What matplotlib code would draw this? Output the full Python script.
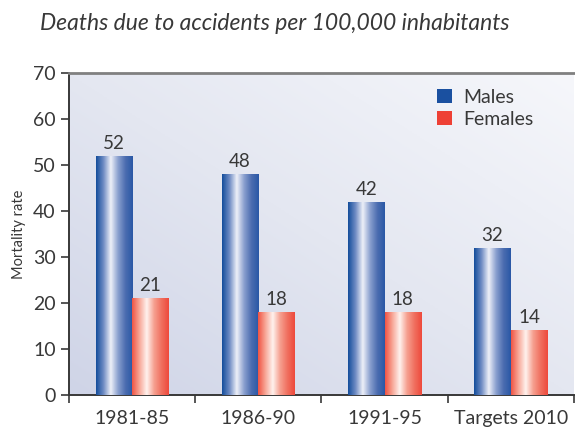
import numpy as np
import matplotlib.pyplot as plt
from matplotlib.colors import LinearSegmentedColormap

plt.rcParams['font.family'] = ['Lato', 'DejaVu Sans']

periods = ['1981-85', '1986-90', '1991-95', 'Targets 2010']
males = [52, 48, 42, 32]
females = [21, 18, 18, 14]

text_col = '#383838'

fig = plt.figure(figsize=(5.75, 4.32), dpi=100)
ax = fig.add_axes([0.12, 0.086, 0.878, 0.745])

# background gradient of the plot area
bg = LinearSegmentedColormap.from_list('bg', ['#cfd4e7', '#e4e7f1', '#f6f7fb'])
yy, xx = np.mgrid[0:1:200j, 0:1:200j]
ax.imshow((xx + yy) / 2, cmap=bg, extent=[0, 1, 0, 1], origin='lower',
          transform=ax.transAxes, aspect='auto', zorder=0)

blue = LinearSegmentedColormap.from_list(
    'b', ['#154e9c', '#6f8cc4', '#eef0f8', '#8aa0cf', '#4c6db0', '#2a58a6'])
red = LinearSegmentedColormap.from_list(
    'r', ['#f05545', '#f8a898', '#fff2ee', '#f6a090', '#f07060', '#ee4a3c'])
grad = np.linspace(0, 1, 100).reshape(1, -1)

x = np.arange(len(periods))
w = 0.29
b1 = ax.bar(x - w / 2, males, w, color='#1a50a0', label='Males', zorder=2)
b2 = ax.bar(x + w / 2, females, w, color='#ee4035', label='Females', zorder=2)

for bars, cmap in ((b1, blue), (b2, red)):
    for r in bars:
        x0, y0 = r.get_x(), r.get_y()
        im = ax.imshow(grad, cmap=cmap, aspect='auto', zorder=3,
                       extent=[x0, x0 + r.get_width(), y0, y0 + r.get_height()])
        im.set_clip_path(r)
    ax.bar_label(bars, padding=3, fontsize=13.5, color=text_col)

ax.set_xlim(-0.5, len(periods) - 0.5)
ax.set_ylim(0, 70)
ax.set_yticks(range(0, 71, 10))
ax.set_xticks(x)
ax.set_xticklabels(periods)
ax.set_xticks(np.arange(-0.5, len(periods)), minor=True)
ax.tick_params(axis='x', which='major', length=0, pad=11, labelsize=14, labelcolor=text_col)
ax.tick_params(axis='x', which='minor', length=6, width=1.2, color=text_col)
ax.tick_params(axis='y', length=6, width=1.2, color=text_col, labelsize=14, labelcolor=text_col)

for s in ('left', 'bottom'):
    ax.spines[s].set_color(text_col)
    ax.spines[s].set_linewidth(1.4)
ax.spines['top'].set_color('#808080')
ax.spines['top'].set_linewidth(2)
ax.spines['right'].set_visible(False)

ax.set_ylabel('Mortality rate', fontsize=10.5, color=text_col, labelpad=5)

leg = ax.legend(loc='upper right', bbox_to_anchor=(0.955, 1.005), frameon=False,
                fontsize=14, handlelength=0.75, handleheight=0.75,
                handletextpad=0.6, labelspacing=0.25)
for t in leg.get_texts():
    t.set_color(text_col)

fig.text(0.477, 0.945, 'Deaths due to accidents per 100,000 inhabitants',
         ha='center', va='center', fontsize=16.5, style='italic', color=text_col)

fig.savefig('out.png', dpi=100)
